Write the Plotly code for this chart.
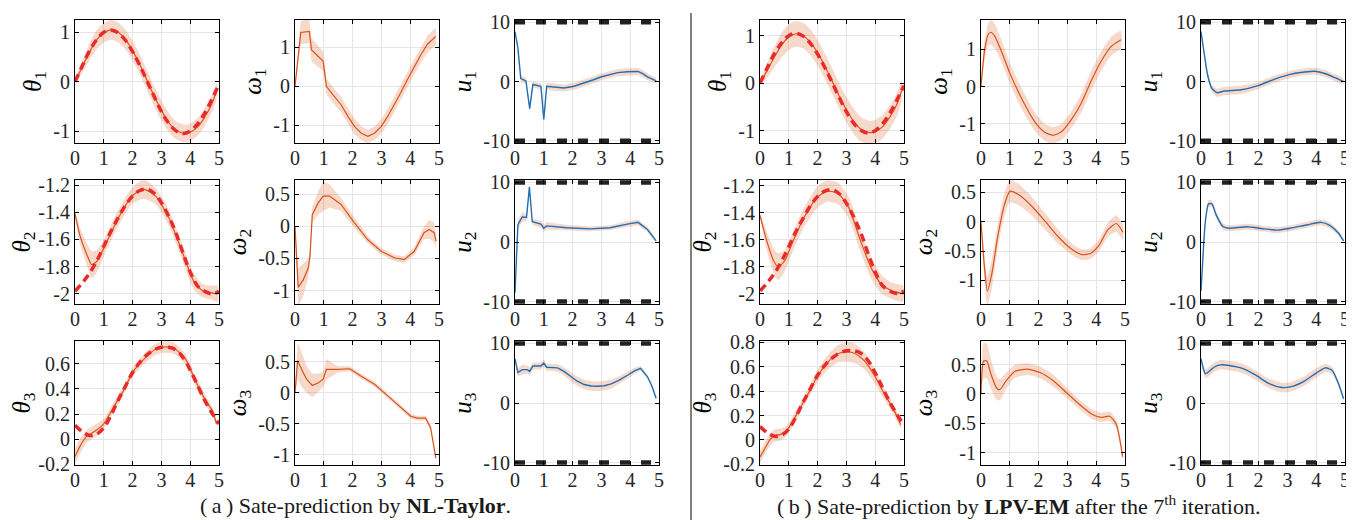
import plotly.graph_objects as go

# ---------------- data ----------------
T_REF = [0, 0.25, 0.5, 0.75, 1.0, 1.25, 1.5, 1.75, 2.0, 2.25, 2.5, 2.75, 3.0, 3.25, 3.5, 3.75, 4.0, 4.25, 4.5, 4.75, 5.0]
REF_TH1 = [0, 0.32, 0.62, 0.85, 1.0, 1.05, 0.99, 0.84, 0.61, 0.33, 0.02, -0.3, -0.6, -0.84, -0.99, -1.05, -1.0, -0.86, -0.64, -0.36, -0.05]
REF_TH2 = [-1.98, -1.92, -1.85, -1.76, -1.65, -1.54, -1.44, -1.35, -1.28, -1.24, -1.23, -1.26, -1.33, -1.43, -1.55, -1.70, -1.84, -1.94, -1.98, -2.0, -1.98]
REF_TH3 = [0.11, 0.06, 0.03, 0.04, 0.09, 0.19, 0.31, 0.42, 0.53, 0.61, 0.67, 0.71, 0.73, 0.73, 0.71, 0.65, 0.55, 0.43, 0.31, 0.21, 0.12]

U_BOUND_T = [0, 5]
U_MAX = [10, 10]
U_MIN = [-10, -10]

# (a) NL-Taylor
A_TH1_T = [0, 0.25, 0.5, 0.75, 1.0, 1.25, 1.5, 1.75, 2.0, 2.25, 2.5, 2.75, 3.0, 3.25, 3.5, 3.8, 4.0, 4.25, 4.5, 4.75, 4.92]
A_TH1 = [0, 0.3, 0.6, 0.85, 0.99, 1.05, 1.0, 0.86, 0.63, 0.35, 0.03, -0.29, -0.58, -0.82, -0.98, -1.05, -1.02, -0.92, -0.72, -0.45, -0.18]
A_TH1_HW = [0.03, 0.12, 0.17, 0.19, 0.2, 0.2, 0.2, 0.2, 0.2, 0.2, 0.2, 0.2, 0.2, 0.19, 0.18, 0.18, 0.18, 0.18, 0.18, 0.17, 0.15]

A_W1_T = [0, 0.2, 0.5, 0.57, 0.98, 1.09, 1.3, 1.6, 1.85, 2.07, 2.3, 2.53, 2.76, 2.99, 3.22, 3.45, 3.68, 3.9, 4.14, 4.37, 4.6, 4.89]
A_W1 = [0, 1.38, 1.41, 0.94, 0.64, 0.0, -0.2, -0.47, -0.78, -1.03, -1.2, -1.28, -1.2, -1.03, -0.77, -0.47, -0.15, 0.17, 0.5, 0.81, 1.08, 1.28]
A_W1_HW = [0.05, 0.3, 0.3, 0.3, 0.25, 0.2, 0.2, 0.2, 0.2, 0.2, 0.18, 0.17, 0.17, 0.18, 0.2, 0.2, 0.2, 0.2, 0.2, 0.2, 0.22, 0.22]

A_U1_T = [0, 0.1, 0.2, 0.38, 0.51, 0.62, 0.9, 1.0, 1.1, 1.4, 1.7, 2.05, 2.4, 2.7, 3.0, 3.3, 3.57, 3.9, 4.27, 4.45, 4.6, 4.9]
A_U1 = [8.4, 5.7, 0.5, 0.1, -4.6, -0.5, -0.8, -6.4, -0.8, -1.0, -1.1, -0.8, -0.3, 0.25, 0.8, 1.2, 1.5, 1.65, 1.7, 1.3, 0.8, 0.1]
A_U1_HW = [0.3, 0.4, 0.5, 0.5, 0.5, 0.5, 0.5, 0.5, 0.6, 0.6, 0.6, 0.6, 0.6, 0.6, 0.6, 0.6, 0.6, 0.6, 0.6, 0.6, 0.6, 0.5]

A_TH2_T = [0, 0.17, 0.41, 0.58, 0.76, 1.05, 1.51, 1.98, 2.38, 2.79, 3.26, 3.72, 4.13, 4.42, 4.71, 4.95]
A_TH2 = [-1.41, -1.57, -1.71, -1.785, -1.76, -1.64, -1.44, -1.28, -1.23, -1.28, -1.44, -1.69, -1.91, -1.975, -1.99, -2.0]
A_TH2_HW = [0.02, 0.06, 0.08, 0.1, 0.08, 0.06, 0.06, 0.06, 0.07, 0.06, 0.06, 0.06, 0.06, 0.05, 0.05, 0.06]

A_W2_T = [0, 0.11, 0.29, 0.46, 0.52, 0.6, 0.8, 0.98, 1.2, 1.6, 2.07, 2.53, 2.99, 3.45, 3.79, 4.14, 4.48, 4.66, 4.83, 4.9]
A_W2 = [0, -0.95, -0.83, -0.65, -0.47, 0.18, 0.36, 0.47, 0.47, 0.34, 0.05, -0.21, -0.39, -0.49, -0.52, -0.39, -0.1, -0.05, -0.1, -0.23]
A_W2_HW = [0.02, 0.3, 0.25, 0.15, 0.12, 0.12, 0.18, 0.23, 0.18, 0.1, 0.08, 0.06, 0.05, 0.05, 0.05, 0.06, 0.1, 0.15, 0.15, 0.12]

A_U2_T = [0, 0.1, 0.25, 0.4, 0.5, 0.6, 0.9, 1.0, 1.1, 1.8, 2.6, 3.3, 3.9, 4.27, 4.6, 4.9]
A_U2 = [-8.5, 2.9, 4.2, 4.1, 9.2, 3.4, 3.0, 2.3, 2.7, 2.4, 2.2, 2.4, 3.0, 3.3, 2.1, 0.2]
A_U2_HW = [0.3, 0.8, 0.8, 0.6, 0.5, 0.5, 0.6, 0.6, 0.6, 0.5, 0.4, 0.4, 0.5, 0.5, 0.4, 0.3]

A_TH3_T = [0, 0.17, 0.41, 0.7, 0.99, 1.34, 1.69, 2.03, 2.44, 2.79, 3.08, 3.43, 3.84, 4.19, 4.53, 4.77, 4.91]
A_TH3 = [-0.138, -0.057, 0.024, 0.065, 0.12, 0.254, 0.39, 0.54, 0.646, 0.714, 0.732, 0.724, 0.635, 0.46, 0.31, 0.225, 0.124]
A_TH3_HW = [0.06, 0.06, 0.05, 0.05, 0.04, 0.04, 0.035, 0.035, 0.04, 0.045, 0.045, 0.045, 0.04, 0.04, 0.04, 0.03, 0.02]

A_W3_T = [0, 0.09, 0.23, 0.4, 0.6, 0.8, 0.98, 1.09, 1.49, 1.9, 2.3, 2.76, 3.22, 3.68, 4.02, 4.25, 4.54, 4.71, 4.89]
A_W3 = [0, 0.52, 0.38, 0.22, 0.12, 0.16, 0.22, 0.38, 0.38, 0.39, 0.27, 0.14, -0.05, -0.24, -0.38, -0.41, -0.41, -0.57, -1.06]
A_W3_HW = [0.02, 0.3, 0.28, 0.22, 0.19, 0.15, 0.12, 0.17, 0.05, 0.04, 0.04, 0.04, 0.04, 0.04, 0.04, 0.04, 0.04, 0.04, 0.03]

A_U3_T = [0, 0.1, 0.25, 0.43, 0.51, 0.62, 0.9, 1.0, 1.1, 1.48, 1.7, 1.94, 2.15, 2.4, 2.65, 2.87, 3.1, 3.34, 3.6, 3.92, 4.15, 4.36, 4.6, 4.75, 4.9]
A_U3 = [7.4, 5.1, 5.6, 5.6, 5.3, 6.2, 6.2, 6.7, 6.0, 5.9, 5.3, 4.4, 3.7, 3.1, 2.85, 2.8, 2.9, 3.2, 3.8, 4.7, 5.4, 5.8, 4.4, 2.9, 0.8]
A_U3_HW = [0.3, 0.7, 0.8, 0.7, 0.7, 0.6, 0.6, 0.6, 0.6, 0.6, 0.7, 0.8, 0.8, 0.8, 0.8, 0.8, 0.8, 0.8, 0.7, 0.6, 0.5, 0.4, 0.3, 0.3, 0.2]

# (b) LPV-EM
B_TH1_T = [0, 0.25, 0.5, 0.75, 1.0, 1.25, 1.5, 1.75, 2.0, 2.25, 2.5, 2.75, 3.0, 3.25, 3.5, 3.8, 4.0, 4.25, 4.5, 4.75, 4.92]
B_TH1 = [0, 0.27, 0.55, 0.8, 0.97, 1.04, 1.0, 0.86, 0.64, 0.36, 0.05, -0.27, -0.56, -0.8, -0.97, -1.04, -1.02, -0.92, -0.72, -0.45, -0.16]
B_TH1_HW = [0.05, 0.15, 0.22, 0.26, 0.27, 0.27, 0.27, 0.27, 0.27, 0.27, 0.27, 0.27, 0.27, 0.27, 0.26, 0.25, 0.25, 0.25, 0.25, 0.24, 0.22]

B_W1_T = [0, 0.12, 0.25, 0.35, 0.48, 0.71, 1.0, 1.41, 1.87, 2.21, 2.5, 2.79, 3.13, 3.48, 3.82, 4.17, 4.52, 4.86]
B_W1 = [0, 0.95, 1.4, 1.46, 1.35, 0.95, 0.36, -0.32, -0.95, -1.23, -1.31, -1.22, -0.9, -0.45, 0.14, 0.68, 1.08, 1.26]
B_W1_HW = [0.05, 0.25, 0.3, 0.33, 0.33, 0.3, 0.28, 0.27, 0.25, 0.23, 0.22, 0.22, 0.23, 0.25, 0.26, 0.26, 0.25, 0.24]

B_U1_T = [0, 0.12, 0.23, 0.37, 0.56, 0.81, 1.4, 1.98, 2.56, 3.14, 3.6, 3.95, 4.3, 4.65, 4.94]
B_U1 = [8.45, 4.4, 1.1, -1.1, -1.9, -1.6, -1.4, -0.7, 0.4, 1.25, 1.6, 1.74, 1.36, 0.65, 0.0]
B_U1_HW = [0.2, 0.4, 0.5, 0.6, 0.7, 0.7, 0.7, 0.6, 0.6, 0.6, 0.6, 0.6, 0.6, 0.6, 0.5]

B_TH2_T = [0, 0.25, 0.48, 0.63, 0.85, 1.15, 1.52, 1.97, 2.34, 2.72, 3.1, 3.46, 3.84, 4.21, 4.58, 4.96]
B_TH2 = [-1.42, -1.62, -1.76, -1.80, -1.76, -1.61, -1.44, -1.29, -1.24, -1.26, -1.37, -1.59, -1.80, -1.93, -1.98, -2.0]
B_TH2_HW = [0.02, 0.07, 0.09, 0.1, 0.08, 0.07, 0.07, 0.08, 0.08, 0.08, 0.08, 0.08, 0.08, 0.07, 0.06, 0.06]

B_W2_T = [0, 0.12, 0.22, 0.37, 0.6, 0.82, 1.01, 1.34, 1.79, 2.24, 2.69, 3.13, 3.5, 3.8, 4.1, 4.4, 4.7, 4.93]
B_W2 = [0, -0.78, -1.18, -0.9, -0.2, 0.3, 0.52, 0.45, 0.25, 0.0, -0.26, -0.46, -0.56, -0.54, -0.4, -0.14, -0.03, -0.18]
B_W2_HW = [0.02, 0.2, 0.25, 0.25, 0.2, 0.2, 0.19, 0.18, 0.16, 0.14, 0.12, 0.1, 0.09, 0.09, 0.1, 0.12, 0.14, 0.13]

B_U2_T = [0, 0.08, 0.15, 0.26, 0.38, 0.53, 0.76, 0.98, 1.59, 2.2, 2.65, 3.1, 3.7, 4.17, 4.47, 4.77, 4.95]
B_U2 = [-8.2, -1.5, 3.4, 6.4, 6.4, 4.5, 2.6, 2.3, 2.55, 2.2, 2.0, 2.3, 2.9, 3.3, 2.8, 1.5, 0.2]
B_U2_HW = [0.2, 0.5, 0.6, 0.6, 0.6, 0.5, 0.5, 0.5, 0.5, 0.5, 0.5, 0.5, 0.5, 0.5, 0.5, 0.4, 0.3]

B_TH3_T = [0, 0.17, 0.34, 0.52, 0.69, 0.89, 1.09, 1.38, 1.67, 2.01, 2.36, 2.7, 2.99, 3.28, 3.62, 3.97, 4.31, 4.66, 4.89]
B_TH3 = [-0.139, -0.07, 0.0, 0.038, 0.044, 0.065, 0.133, 0.256, 0.378, 0.528, 0.637, 0.705, 0.72, 0.71, 0.65, 0.53, 0.38, 0.24, 0.125]
B_TH3_HW = [0.05, 0.05, 0.05, 0.05, 0.05, 0.045, 0.04, 0.04, 0.04, 0.05, 0.06, 0.07, 0.08, 0.08, 0.07, 0.06, 0.05, 0.04, 0.03]

B_W3_T = [0, 0.09, 0.2, 0.35, 0.54, 0.65, 0.87, 1.17, 1.62, 2.07, 2.52, 2.97, 3.42, 3.87, 4.17, 4.47, 4.7, 4.92]
B_W3 = [0, 0.56, 0.56, 0.33, 0.1, 0.07, 0.22, 0.38, 0.42, 0.36, 0.22, 0.02, -0.18, -0.35, -0.4, -0.38, -0.52, -1.07]
B_W3_HW = [0.05, 0.3, 0.3, 0.25, 0.2, 0.18, 0.14, 0.11, 0.1, 0.1, 0.1, 0.09, 0.08, 0.08, 0.08, 0.08, 0.07, 0.04]

B_U3_T = [0, 0.08, 0.15, 0.26, 0.45, 0.68, 0.98, 1.44, 1.89, 2.35, 2.8, 3.1, 3.56, 4.02, 4.32, 4.55, 4.77, 4.95]
B_U3 = [7.4, 5.8, 4.9, 5.2, 6.0, 6.4, 6.3, 5.8, 4.7, 3.3, 2.6, 2.7, 3.6, 5.1, 5.9, 5.5, 3.3, 0.7]
B_U3_HW = [0.3, 0.6, 0.7, 0.8, 0.8, 0.8, 0.8, 0.8, 0.8, 0.8, 0.8, 0.8, 0.8, 0.8, 0.7, 0.6, 0.5, 0.3]

X_TICKS = [0, 1, 2, 3, 4, 5]
TICKS_TH1 = [-1, 0, 1]
TICKS_W1 = [-1, 0, 1]
TICKS_U = [-10, 0, 10]
TICKS_TH2 = [-2, -1.8, -1.6, -1.4, -1.2]
TICKS_W2 = [-1, -0.5, 0, 0.5]
TICKS_TH3_A = [-0.2, 0, 0.2, 0.4, 0.6]
TICKS_TH3_B = [-0.2, 0, 0.2, 0.4, 0.6, 0.8]
TICKS_W3 = [-1, -0.5, 0, 0.5]

CAPTION_A = "(\u2009a\u2009) Sate-prediction by <b>NL-Taylor</b>."
CAPTION_B = "(\u2009b\u2009) Sate-prediction by <b>LPV-EM</b> after the 7<sup>th</sup> iteration."

# ---------------- structure ----------------
SERIES = [
    [[(A_TH1_T, A_TH1, A_TH1_HW), (A_W1_T, A_W1, A_W1_HW), (A_U1_T, A_U1, A_U1_HW)],
     [(A_TH2_T, A_TH2, A_TH2_HW), (A_W2_T, A_W2, A_W2_HW), (A_U2_T, A_U2, A_U2_HW)],
     [(A_TH3_T, A_TH3, A_TH3_HW), (A_W3_T, A_W3, A_W3_HW), (A_U3_T, A_U3, A_U3_HW)]],
    [[(B_TH1_T, B_TH1, B_TH1_HW), (B_W1_T, B_W1, B_W1_HW), (B_U1_T, B_U1, B_U1_HW)],
     [(B_TH2_T, B_TH2, B_TH2_HW), (B_W2_T, B_W2, B_W2_HW), (B_U2_T, B_U2, B_U2_HW)],
     [(B_TH3_T, B_TH3, B_TH3_HW), (B_W3_T, B_W3, B_W3_HW), (B_U3_T, B_U3, B_U3_HW)]],
]
REFS = [REF_TH1, REF_TH2, REF_TH3]

YRANGES = [
    [[[-1.24, 1.25], [-1.45, 1.70], [-10.4, 10.4]],
     [[-2.074, -1.163], [-1.21, 0.72], [-10.4, 10.4]],
     [[-0.205, 0.78], [-1.17, 0.84], [-10.4, 10.4]]],
    [[[-1.26, 1.33], [-1.52, 1.79], [-10.4, 10.4]],
     [[-2.077, -1.158], [-1.40, 0.71], [-10.4, 10.4]],
     [[-0.205, 0.81], [-1.21, 0.90], [-10.4, 10.4]]],
]
YTICKS = [
    [[TICKS_TH1, TICKS_W1, TICKS_U], [TICKS_TH2, TICKS_W2, TICKS_U], [TICKS_TH3_A, TICKS_W3, TICKS_U]],
    [[TICKS_TH1, TICKS_W1, TICKS_U], [TICKS_TH2, TICKS_W2, TICKS_U], [TICKS_TH3_B, TICKS_W3, TICKS_U]],
]
YLABELS = ["<i>θ</i><sub>%d</sub>", "<i>ω</i><sub>%d</sub>", "<i>u</i><sub>%d</sub>"]

W, H = 1354, 520
COLS_PX = [[(67, 211), (287, 431), (507, 651)], [(752, 896), (973, 1117), (1193, 1337)]]
ROWS_PX = [(12, 135), (172, 296), (333, 457)]

MEAN_COLOR = "#d95319"
BAND_COLOR = "rgba(217,83,25,0.22)"
U_COLOR = "#1f6fb4"
REF_COLOR = "#ea2a2a"
FONT = "Liberation Serif, Times New Roman, serif"


def lab(v):
    return f"{v:g}"


fig = go.Figure()
layout = {}
for p in range(2):
    for r in range(3):
        for c in range(3):
            idx = p * 9 + r * 3 + c + 1
            sfx = "" if idx == 1 else str(idx)
            xa, ya = "x" + sfx, "y" + sfx
            t, m, hw = SERIES[p][r][c]
            shape = "linear" if (p == 0 and c > 0) else "spline"
            upper = [a + b for a, b in zip(m, hw)]
            lower = [a - b for a, b in zip(m, hw)]
            fig.add_trace(go.Scatter(
                x=list(t) + list(t)[::-1], y=upper + lower[::-1],
                fill="toself", fillcolor=BAND_COLOR, mode="lines",
                line=dict(width=0, shape=shape, smoothing=0.6),
                hoverinfo="skip", showlegend=False, xaxis=xa, yaxis=ya))
            col = U_COLOR if c == 2 else MEAN_COLOR
            fig.add_trace(go.Scatter(
                x=t, y=m, mode="lines",
                line=dict(color=col, width=1.4 if c == 2 else 1.2, shape=shape, smoothing=0.6),
                showlegend=False, xaxis=xa, yaxis=ya))
            if c == 0:
                fig.add_trace(go.Scatter(
                    x=T_REF, y=REFS[r], mode="lines",
                    line=dict(color=REF_COLOR, width=3.5, dash="8px,5px", shape="spline"),
                    showlegend=False, xaxis=xa, yaxis=ya))
            if c == 2:
                for bound in (U_MAX, U_MIN):
                    fig.add_trace(go.Scatter(
                        x=U_BOUND_T, y=bound, mode="lines",
                        line=dict(color="#222222", width=4.5, dash="10px,11px"),
                        showlegend=False, xaxis=xa, yaxis=ya))

            x0, x1 = COLS_PX[p][c]
            top, bot = ROWS_PX[r]
            common = dict(
                showline=True, linecolor="black", linewidth=1, mirror="allticks",
                ticks="inside", ticklen=4, tickcolor="black",
                showgrid=True, gridcolor="#e6e6e6", gridwidth=1, zeroline=False,
                tickfont=dict(family=FONT, size=20, color="#262626"),
                automargin=False, fixedrange=True,
            )
            layout["xaxis" + sfx] = dict(
                common, domain=[x0 / W, x1 / W], range=[0, 5], anchor=ya,
                tickmode="array", tickvals=X_TICKS, ticktext=[lab(v) for v in X_TICKS],
                ticklabelstandoff=-3)
            yt = YTICKS[p][r][c]
            layout["yaxis" + sfx] = dict(
                common, domain=[1 - bot / H, 1 - top / H], range=YRANGES[p][r][c], anchor=xa,
                tickmode="array", tickvals=yt, ticktext=[lab(v) for v in yt],
                title=dict(text=YLABELS[c] % (r + 1), standoff=4,
                           font=dict(family=FONT, size=25, color="black")))

fig.update_layout(
    width=W, height=H, margin=dict(l=0, r=0, t=0, b=0),
    paper_bgcolor="white", plot_bgcolor="white", showlegend=False,
    annotations=[
        dict(text=CAPTION_A, x=347 / W, y=1 - 497 / H, xref="paper", yref="paper",
             xanchor="center", yanchor="middle",
             showarrow=False, font=dict(family=FONT, size=22, color="#1a1a1a")),
        dict(text=CAPTION_B, x=1010 / W, y=1 - 497 / H, xref="paper", yref="paper",
             xanchor="center", yanchor="middle",
             showarrow=False, font=dict(family=FONT, size=22, color="#1a1a1a")),
    ],
    shapes=[dict(type="line", xref="paper", yref="paper", x0=683 / W, x1=683 / W,
                 y0=1 - 5 / H, y1=1 - 515 / H, line=dict(color="black", width=1))],
    **layout,
)

fig.write_html("out.html")
